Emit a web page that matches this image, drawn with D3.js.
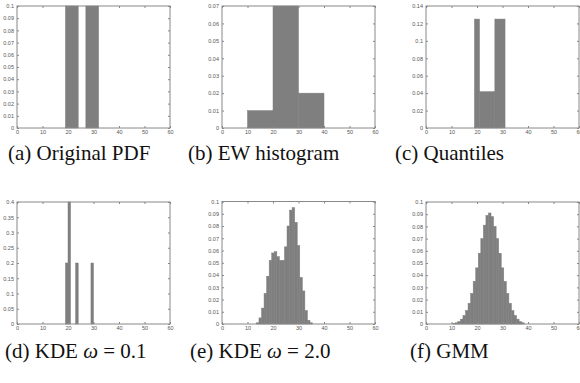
<!DOCTYPE html>
<html>
<head>
<meta charset="utf-8">
<script src="https://cdn.jsdelivr.net/npm/d3@7"></script>
<style>
  body { margin: 0; background: #fff; }
  .tick text { font-family: "Liberation Sans", sans-serif; font-size: 5.5px; fill: #555; }
  .tick line { stroke: #888; }
</style>
</head>
<body>
<script>
// (a) original pdf
const origX0 = [19, 27];
const origX1 = [24, 32];
const origY = [0.1, 0.1];

// (b) equi-width histogram
const ewX0 = [10, 20, 30];
const ewX1 = [20, 30, 40];
const ewY = [0.01, 0.07, 0.02];

// (c) quantiles
const qX0 = [19, 21, 27];
const qX1 = [21, 27, 31];
const qY = [0.125, 0.0417, 0.125];

// (d) KDE w=0.1, bins of width 1
const kde1X0 = [19, 20, 23, 29];
const kde1Y = [0.2, 0.4, 0.2, 0.2];

// (e) KDE w=2.0, bins of width 1
const kde2X0 = [13.5, 14.5, 15.5, 16.5, 17.5, 18.5, 19.5, 20.5, 21.5, 22.5, 23.5, 24.5,
  25.5, 26.5, 27.5, 28.5, 29.5, 30.5, 31.5, 32.5, 33.5, 34.5];
const kde2Y = [0.001, 0.005, 0.013, 0.025, 0.039, 0.052, 0.058, 0.059, 0.055, 0.052, 0.052, 0.063,
  0.080, 0.093, 0.095, 0.083, 0.064, 0.038, 0.027, 0.011, 0.003, 0.001];

// (f) GMM, bins of width 1
const gmmX0 = [10.5, 11.5, 12.5, 13.5, 14.5, 15.5, 16.5, 17.5, 18.5, 19.5, 20.5, 21.5, 22.5, 23.5,
  24.5, 25.5, 26.5, 27.5, 28.5, 29.5, 30.5, 31.5, 32.5, 33.5, 34.5, 35.5, 36.5, 37.5];
const gmmY = [0.0005, 0.001, 0.002, 0.004, 0.007, 0.011, 0.017, 0.025, 0.035, 0.046, 0.058, 0.070,
  0.081, 0.089, 0.091, 0.088, 0.080, 0.070, 0.058, 0.046, 0.035, 0.025, 0.017, 0.011, 0.007,
  0.004, 0.002, 0.001];

const xTicks = [0, 10, 20, 30, 40, 50, 60];

const panels = [
  { x0: origX0, x1: origX1, y: origY, yMax: 0.1, yStep: 0.01, box: [17, 6, 170, 128] },
  { x0: ewX0, x1: ewX1, y: ewY, yMax: 0.07, yStep: 0.01, box: [222, 6, 375, 128] },
  { x0: qX0, x1: qX1, y: qY, yMax: 0.14, yStep: 0.02, box: [426, 6, 579, 128] },
  { x0: kde1X0, x1: kde1X0.map(v => v + 1), y: kde1Y, yMax: 0.4, yStep: 0.05, box: [17, 202, 170, 324] },
  { x0: kde2X0, x1: kde2X0.map(v => v + 1), y: kde2Y, yMax: 0.1, yStep: 0.01, box: [222, 201.5, 375, 324] },
  { x0: gmmX0, x1: gmmX0.map(v => v + 1), y: gmmY, yMax: 0.1, yStep: 0.01, box: [426, 202, 579, 324] }
];

const svg = d3.select("body").append("svg")
  .attr("width", 580)
  .attr("height", 383);

const fmt = d3.format("~g");

panels.forEach(p => {
  const [l, t, r, b] = p.box;
  const x = d3.scaleLinear().domain([0, 60]).range([l, r]);
  const y = d3.scaleLinear().domain([0, p.yMax]).range([b, t]);
  const yTicks = d3.range(0, p.yMax + p.yStep / 2, p.yStep).map(v => +v.toFixed(3));
  const g = svg.append("g");

  const bins = p.y.map((v, i) => ({ x0: p.x0[i], x1: p.x1[i], v }));
  g.selectAll("rect.bar")
    .data(bins)
    .join("rect")
    .attr("class", "bar")
    .attr("x", d => x(d.x0))
    .attr("width", d => x(d.x1) - x(d.x0))
    .attr("y", d => y(d.v))
    .attr("height", d => y(0) - y(d.v))
    .attr("fill", "#7f7f7f")
    .attr("stroke", "#7f7f7f")
    .attr("stroke-width", 0.5);

  // inward ticks on all four sides (matlab style)
  g.append("g").attr("transform", `translate(${l},0)`)
    .call(d3.axisLeft(y).tickValues(yTicks).tickSize(-2).tickPadding(3).tickFormat(fmt))
    .call(s => s.select(".domain").remove());
  g.append("g").attr("transform", `translate(${r},0)`)
    .call(d3.axisRight(y).tickValues(yTicks).tickSize(-2).tickFormat(""))
    .call(s => s.select(".domain").remove());
  g.append("g").attr("transform", `translate(0,${b})`)
    .call(d3.axisBottom(x).tickValues(xTicks).tickSize(-2).tickPadding(2).tickFormat(d3.format("d")))
    .call(s => s.select(".domain").remove());
  g.append("g").attr("transform", `translate(0,${t})`)
    .call(d3.axisTop(x).tickValues(xTicks).tickSize(-2).tickFormat(""))
    .call(s => s.select(".domain").remove());

  g.append("rect")
    .attr("x", l).attr("y", t)
    .attr("width", r - l).attr("height", b - t)
    .attr("fill", "none")
    .attr("stroke", "#888")
    .attr("stroke-width", 1);
});

// captions
const captions = [
  { x: 8, y: 160, parts: [["(a) Original PDF", false]] },
  { x: 188, y: 160, parts: [["(b) EW histogram", false]] },
  { x: 395, y: 160, parts: [["(c) Quantiles", false]] },
  { x: 5, y: 358, parts: [["(d) KDE ", false], ["ω", true], [" = 0.1", false]] },
  { x: 190, y: 358, parts: [["(e) KDE ", false], ["ω", true], [" = 2.0", false]] },
  { x: 410, y: 358, parts: [["(f) GMM", false]] }
];

captions.forEach(c => {
  const txt = svg.append("text")
    .attr("x", c.x)
    .attr("y", c.y)
    .attr("font-family", "'Liberation Serif', 'DejaVu Serif', 'Times New Roman', serif")
    .attr("font-size", 21)
    .attr("fill", "#111")
    .attr("xml:space", "preserve");
  c.parts.forEach(([s, it]) => {
    txt.append("tspan")
      .attr("font-style", it ? "italic" : null)
      .text(s);
  });
});
</script>
</body>
</html>
